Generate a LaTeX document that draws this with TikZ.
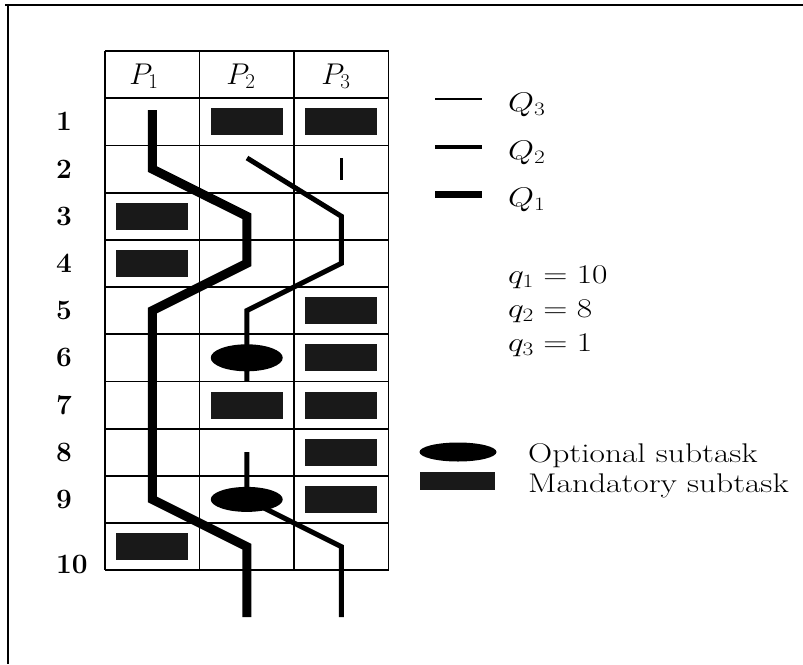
\RequirePackage{fix-cm}
\documentclass[tikz,border=0pt]{standalone}
\usepackage{graphicx}
\usetikzlibrary{shapes.geometric}
\definecolor{mandfill}{gray}{0.1}
% horizontally widened text for the legend
\newcommand\hwide[1]{\scalebox{1.24}[1]{#1}}
\begin{document}
\begin{tikzpicture}[x=1pt,y=-1pt,
  gridline/.style={line width=1.8pt},
  frameline/.style={line width=1.4pt},
  qone/.style={line width=9pt},
  qtwo/.style={line width=5pt},
  qthree/.style={line width=2.6pt},
  mand/.style={rectangle, fill=mandfill, minimum width=72pt, minimum height=27pt, inner sep=0pt},
  opt/.style={ellipse, fill=black, minimum width=72pt, minimum height=27pt, inner sep=0pt},
  head/.style={font=\fontsize{30}{34}\selectfont, anchor=base},
  rowlab/.style={font=\fontsize{28}{32}\selectfont\bfseries, anchor=base west, inner sep=0pt},
  legtext/.style={font=\fontsize{27}{31}\selectfont, anchor=base west, inner sep=0pt},
]
\useasboundingbox (0,0) rectangle (803,664);

% outer frame (top and left sides)
\draw[frameline] (5,5) -- (803,5);
\draw[frameline] (8,5) -- (8,664);

% schedule grid: header row plus ten time slots, three processors
\foreach \x in {105,199.5,294,388.5}
  \draw[gridline] (\x,51) -- (\x,570.2);
\foreach \k in {0,...,11}
  \draw[gridline] (105,{51+47.2*\k}) -- (388.5,{51+47.2*\k});

% cell centres
\foreach \i in {1,2,3}
  \foreach \k in {1,...,10}
    \coordinate (c\i-\k) at ({105+94.5*(\i-0.5)},{74.6+47.2*\k});

% column headers
\node[head] (h1) at (144,84) {$P_1$};
\node[head] (h2) at (241,84) {$P_2$};
\node[head] (h3) at (336,84) {$P_3$};

% time slot labels
\foreach \k in {1,...,9}
  \node[rowlab] (r\k) at (56,{74.6+47.2*\k+9}) {\k};
\node[rowlab] (r10) at (56,573) {10};

% task paths
\coordinate (q1s) at (152.25,110);
\coordinate (q1e) at (246.75,617);
\draw[qone] (q1s) -- (c1-2) -- (c2-3) -- (c2-4) -- (c1-5) -- (c1-9) -- (c2-10) -- (q1e);

\coordinate (q2s) at (247,158);
\coordinate (q2m) at (246.75,381.4);
\coordinate (q2e) at (341.25,617);
\draw[qtwo] (q2s) -- (c3-3) -- (c3-4) -- (c2-5) -- (q2m);
\draw[qtwo] (c2-8) -- (c2-9) -- (c3-10) -- (q2e);

\coordinate (q3s) at (341.25,158);
\coordinate (q3e) at (341.25,180);
\draw[qthree] (q3s) -- (q3e);

% mandatory subtasks
\foreach \i/\k in {2/1,3/1,1/3,1/4,3/5,3/6,2/7,3/7,3/8,3/9,1/10}
  \node[mand] (m\i-\k) at (c\i-\k) {};

% optional subtasks
\node[opt] (o2-6) at (c2-6) {};
\node[opt, minimum height=25pt] (o2-9) at (c2-9) {};

% legend: paths
\coordinate (l3a) at (435,99);  \coordinate (l3b) at (482,99);
\coordinate (l2a) at (435,147); \coordinate (l2b) at (482,147);
\coordinate (l1a) at (435,194); \coordinate (l1b) at (482,194);
\draw[line width=2pt] (l3a) -- (l3b);
\draw[line width=4.5pt] (l2a) -- (l2b);
\draw[line width=7pt] (l1a) -- (l1b);
\node[legtext] (lq3) at (508,111) {\hwide{$Q_3$}};
\node[legtext] (lq2) at (508,159) {\hwide{$Q_2$}};
\node[legtext] (lq1) at (508,206) {\hwide{$Q_1$}};

% legend: path lengths
\node[legtext] (v1) at (508,283) {\hwide{$q_1 = 10$}};
\node[legtext] (v2) at (508,317) {\hwide{$q_2 = 8$}};
\node[legtext] (v3) at (508,351) {\hwide{$q_3 = 1$}};

% legend: subtask kinds
\node[opt, minimum width=77pt, minimum height=19pt] (lo) at (458,452) {};
\node[mand, minimum width=75pt, minimum height=18pt] (lm) at (457.5,481) {};
\node[legtext] (lot) at (528,462) {\hwide{Optional subtask}};
\node[legtext] (lmt) at (528,492) {\hwide{Mandatory subtask}};
\end{tikzpicture}
\end{document}
